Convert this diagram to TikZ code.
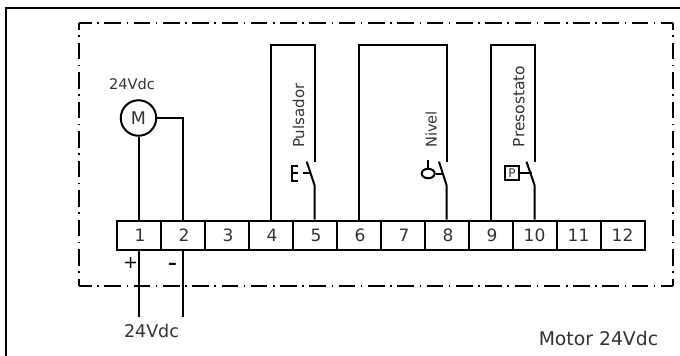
\documentclass[tikz,border=0pt]{standalone}
\usepackage{fontspec}
\usetikzlibrary{shapes.geometric}
\setmainfont{DejaVu Sans}
\definecolor{txt}{gray}{0.2}
\begin{document}
\begin{tikzpicture}[x=1pt,y=-1pt,
  wire/.style={line width=2pt,line cap=butt,line join=miter},
  frame/.style={line width=2pt},
  ddh/.style={line width=2pt,dash pattern=on 16.6pt off 5.6pt on 1.5pt off 5.6pt,dash phase=4.3pt},
  ddv/.style={line width=2pt,dash pattern=on 16.6pt off 5.7pt on 1.5pt off 5.7pt,dash phase=9.6pt},
  term/.style={draw,line width=2pt,minimum width=44pt,minimum height=29.3pt,inner sep=0pt,font=\fontsize{17}{17}\selectfont,text=txt},
  lbl/.style={inner sep=0pt,text=txt}]
\useasboundingbox (0,0) rectangle (680,356);
\fill[white] (0,0) rectangle (680,356);
\coordinate (ftr) at (680,8.3);
\coordinate (ftl) at (6.3,8.3);
\coordinate (fbl) at (6.3,356);
\draw[frame] (ftr) -- (ftl) -- (fbl);
\coordinate (d1) at (79.3,22.7);
\coordinate (d2) at (672.9,22.7);
\coordinate (d3) at (672.9,286);
\coordinate (d4) at (79.3,286);
\draw[ddh] (d1) -- (d2);
\draw[ddh] (d4) -- (d3);
\draw[ddv] (d1) -- (d4);
\draw[ddv] (d2) -- (d3);
% terminals
\foreach \i/\x/\o in {1/138.5/3,2/182.5/3,3/226.5/3,4/270.5/3,5/314.5/3,6/358.5/3,7/402.5/3,8/446.5/3,9/490.5/3,10/534.5/0,11/578.5/0,12/622.5/0}{
  \node[term] (t\i) at (\x,235.35) {\hspace*{\o pt}\i};
}
% motor
\node[draw,circle,line width=2pt,minimum size=35.5pt,inner sep=0pt,font=\fontsize{17.5}{17.5}\selectfont,text=txt] (m) at (138.5,118) {M};
\node[lbl,anchor=base,font=\fontsize{14.6}{15}\selectfont] (v1) at (132,89) {24Vdc};
\draw[wire] (m.south) -- (t1.north);
\draw[wire] (m.east) -- (t2.north |- m.east) -- (t2.north);
% supply wires
\coordinate (e1) at (138.5,316.7);
\coordinate (e2) at (182.5,316.7);
\draw[wire] (t1.south) -- (e1);
\draw[wire] (t2.south) -- (e2);
\node[lbl,font=\fontsize{17.5}{18}\selectfont,text=black] (plus) at (130.8,263.3) {+};
\node[lbl,font=\fontsize{26}{26}\selectfont,text=black] (minus) at (172.5,267) {-};
\node[lbl,anchor=base,font=\fontsize{17.5}{18}\selectfont] (v2) at (151.5,337.7) {24Vdc};
\node[lbl,anchor=base east,font=\fontsize{18.8}{19}\selectfont] (mv) at (658.3,345) {Motor 24Vdc};
% pulsador
\coordinate (p1) at (t5.north |- 0,161.7);
\coordinate (p2) at (t5.north |- 0,185);
\coordinate (p3) at (306.7,161.7);
\draw[wire] (t4.north) -- (t4.north |- 0,44.7) -- (t5.north |- 0,44.7) -- (p1);
\draw[wire] (t5.north) -- (p2) -- (p3);
\draw[wire] (303,173) -- (310.8,173);
\draw[wire] (298,165.5) -- (292.3,165.5) -- (292.3,180.5) -- (298,180.5);
\draw[wire] (292.3,173) -- (297.5,173);
\node[lbl,rotate=90,anchor=base,font=\fontsize{15}{15}\selectfont] (tp) at (304,115.7) {Pulsador};
% nivel
\coordinate (n1) at (t8.north |- 0,161.7);
\coordinate (n2) at (t8.north |- 0,185);
\coordinate (n3) at (439,161.7);
\draw[wire] (t6.north) -- (t6.north |- 0,44.7) -- (t8.north |- 0,44.7) -- (n1);
\draw[wire] (t8.north) -- (n2) -- (n3);
\node[draw,ellipse,line width=2pt,minimum width=13pt,minimum height=9.5pt,inner sep=0pt] (fl) at (428.2,173.5) {};
\draw[wire] (fl.east) -- (442.8,173.5);
\draw[wire] (428.2,160) -- (fl.north);
\node[lbl,rotate=90,anchor=base,font=\fontsize{14.6}{15}\selectfont] (tn) at (436.7,129.3) {Nivel};
% presostato
\coordinate (q1) at (t10.north |- 0,161.7);
\coordinate (q2) at (t10.north |- 0,185);
\coordinate (q3) at (526.5,161.7);
\draw[wire] (t9.north) -- (t9.north |- 0,44.7) -- (t10.north |- 0,44.7) -- (q1);
\draw[wire] (t10.north) -- (q2) -- (q3);
\node[draw,line width=2pt,minimum size=14.5pt,inner sep=0pt,font=\fontsize{12}{12}\selectfont,text=txt] (pb) at (512,173) {P};
\draw[wire] (pb.east) -- (531.5,173);
\node[lbl,rotate=90,anchor=base,font=\fontsize{15.5}{16}\selectfont] (tq) at (524.3,106.3) {Presostato};
\end{tikzpicture}
\end{document}
